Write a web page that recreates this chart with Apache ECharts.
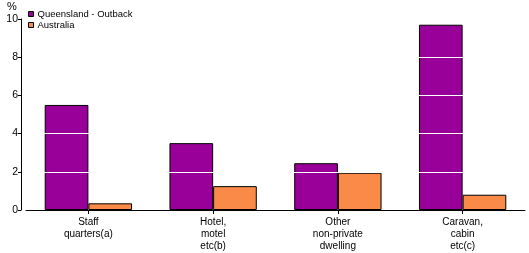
<!DOCTYPE html>
<html><head><meta charset="utf-8">
<script src="https://cdn.jsdelivr.net/npm/echarts@6/dist/echarts.min.js"></script>
<style>html,body{margin:0;padding:0;background:#fff}#c{width:529px;height:253px}</style>
</head><body><div id="c"></div>
<script>
const categories = ["Staff\nquarters(a)", "Hotel,\nmotel\netc(b)", "Other\nnon-private\ndwelling", "Caravan,\ncabin\netc(c)"];
const qldOutback = [5.5, 3.5, 2.45, 9.7];
const australia = [0.35, 1.25, 1.95, 0.8];
const seriesNames = ["Queensland - Outback", "Australia"];
const yTicks = {min: 0, max: 10, interval: 2};
const gridValues = [2, 4, 6, 8];

const FONT = "Liberation Sans";
const chart = echarts.init(document.getElementById('c'), null, {renderer: 'canvas'});
chart.setOption({
  animation: false,
  textStyle: {fontFamily: FONT},
  grid: {left: 26, right: 4, top: 19, bottom: 43},
  legend: {
    orient: 'vertical', left: 28, top: 9, padding: 0, itemWidth: 5, itemHeight: 5, itemGap: 1,
    icon: 'rect',
    itemStyle: {borderWidth: 1, borderColor: '#000'},
    textStyle: {fontFamily: FONT, fontSize: 9.5, lineHeight: 10, color: '#000', padding: [0,0,0,-1]},
    data: seriesNames
  },
  graphic: [{type: 'text', left: 7, top: 1, style: {text: '%', font: '11px ' + FONT, fill: '#000'}}],
  xAxis: {
    type: 'category', data: categories,
    axisLine: {lineStyle: {color: '#000', width: 1}},
    axisTick: {show: true, alignWithLabel: true, length: 4, lineStyle: {color: '#000'}},
    axisLabel: {fontSize: 10, color: '#000', lineHeight: 12, margin: 6, interval: 0}
  },
  yAxis: {
    type: 'value', min: yTicks.min, max: yTicks.max, interval: yTicks.interval,
    offset: 5, z: 5,
    axisLine: {show: true, lineStyle: {color: '#000', width: 1}},
    axisTick: {show: true, length: 3, lineStyle: {color: '#000'}},
    axisLabel: {fontSize: 10.5, color: '#000', margin: 3},
    splitLine: {show: false}
  },
  series: [
    {name: seriesNames[0], type: 'bar', data: qldOutback, barGap: '0%', barCategoryGap: '30%',
     itemStyle: {color: '#990099', borderColor: '#000', borderWidth: 1},
     markLine: {silent: true, symbol: 'none', label: {show: false},
       lineStyle: {color: '#fff', width: 1, type: 'solid'},
       data: gridValues.map(v => ({yAxis: v}))}},
    {name: seriesNames[1], type: 'bar', data: australia,
     itemStyle: {color: '#F98A48', borderColor: '#000', borderWidth: 1}}
  ]
});
</script></body></html>
